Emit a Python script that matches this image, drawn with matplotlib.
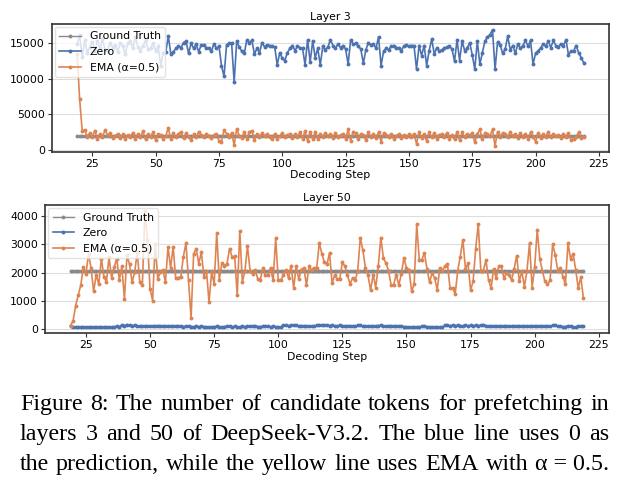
"""Candidate tokens for prefetching, layers 3 and 50 (DeepSeek-V3.2)."""

import matplotlib
matplotlib.use("Agg")
import matplotlib.pyplot as plt
import numpy as np

STEPS = list(range(19, 220))
GT_L3 = 2048
GT_L50 = 2048

ZERO_L3 = [
    14800, 16000, 13000, 15300, 13600, 14400, 15100, 13800, 15200, 14200,
    15500, 14000, 13900, 15000, 14300, 14700, 13700, 14900, 14500, 13400,
    14900, 15200, 14200, 15800, 14400, 13900, 14600, 15300, 14100, 14200,
    14900, 13900, 14500, 11800, 13600, 13700, 15900, 13400, 13700, 14200,
    14500, 14300, 15000, 15200, 13500, 14900, 14200, 14800, 13700, 14700,
    14700, 14300, 14300, 13800, 14800, 14200, 14500, 11800, 10300, 14700,
    14900, 14900, 9500, 15200, 14400, 13800, 13500, 15400, 15000, 15300,
    13400, 14200, 13600, 15000, 14400, 14700, 14600, 14500, 14400, 11900,
    13600, 12800, 12500, 13600, 14200, 14600, 13900, 14500, 14300, 14200,
    11900, 15400, 12300, 15200, 12900, 14200, 11900, 14500, 14000, 14400,
    15400, 14600, 14200, 14800, 14300, 14600, 14100, 12000, 15400, 14800,
    14900, 14500, 14100, 12100, 14000, 15000, 14700, 14800, 14200, 15800,
    11800, 13800, 14200, 14000, 14500, 14600, 14300, 14300, 13900, 14500,
    14700, 14500, 14600, 14600, 11300, 14600, 13200, 14600, 11800, 13900,
    15500, 13400, 14300, 13800, 14000, 14200, 14400, 14500, 14100, 12400,
    15400, 12500, 15200, 13900, 14200, 15000, 13300, 11300, 15200, 12000,
    13600, 15200, 15800, 16100, 16800, 11300, 15100, 14700, 13500, 14100,
    15900, 14000, 14600, 13500, 14800, 14200, 14600, 15300, 14500, 15300,
    12000, 13500, 13800, 14300, 14800, 14500, 15200, 14300, 15300, 14600,
    14400, 14800, 14600, 15400, 13300, 13800, 13800, 14600, 13600, 12900,
    12200,
]

EMA_L3 = [
    13400, 7100, 2750, 2800, 1900, 2400, 1850, 2750, 1500, 2300,
    1800, 2850, 2100, 2400, 1700, 2000, 2300, 1750, 2200, 1600,
    2100, 1900, 2450, 1600, 2300, 1800, 2650, 1500, 2200, 1900,
    2500, 1450, 2300, 2100, 1600, 2000, 3100, 1500, 2400, 1800,
    2300, 2500, 1650, 2400, 1900, 1400, 2200, 1800, 2600, 2100,
    1800, 2300, 2050, 1700, 2100, 2300, 1300, 1200, 2800, 2300,
    1900, 2400, 700, 3000, 2000, 1700, 2500, 1600, 2600, 2700,
    1400, 2300, 1800, 2400, 2000, 2300, 1900, 1600, 2300, 1500,
    2000, 2400, 1800, 2100, 2300, 1700, 2200, 1900, 2500, 1600,
    2700, 1300, 2600, 1600, 2500, 1500, 2200, 1900, 2400, 2000,
    2200, 1700, 2400, 1800, 2100, 2300, 1600, 2900, 1300, 2600,
    2400, 1500, 2300, 2100, 1400, 2600, 1800, 2200, 1700, 2500,
    1200, 2400, 2100, 1900, 2200, 1600, 2000, 2300, 1700, 2100,
    1800, 2200, 1900, 2300, 900, 2600, 1700, 2200, 1300, 2500,
    1800, 2400, 1600, 2100, 2300, 1900, 2400, 1600, 2100, 1500,
    2600, 1400, 2500, 1800, 2300, 2100, 2400, 1100, 2300, 2900,
    1500, 2400, 2300, 2000, 2900, 600, 2600, 1900, 2400, 2300,
    1800, 2600, 2000, 2200, 1700, 2400, 1900, 2300, 1600, 2500,
    1900, 1200, 2400, 1700, 2200, 1900, 2600, 1800, 2300, 2000,
    2100, 1700, 2300, 1900, 2400, 1400, 1600, 1900, 2500, 1700,
    1900,
]

ZERO_L50 = [
    120, 70, 60, 60, 60, 65, 60, 70, 75, 60,
    60, 65, 70, 60, 55, 65, 60, 80, 90, 70,
    140, 120, 160, 140, 120, 130, 110, 100, 110, 100,
    95, 100, 90, 110, 120, 115, 95, 100, 105, 90,
    90, 100, 95, 90, 85, 100, 95, 80, 85, 90,
    80, 95, 85, 70, 60, 75, 80, 90, 85, 70,
    85, 100, 90, 75, 90, 80, 70, 95, 80, 95,
    100, 110, 95, 85, 80, 100, 110, 90, 75, 100,
    80, 60, 70, 130, 130, 120, 130, 125, 130, 110,
    120, 115, 110, 105, 115, 110, 130, 140, 130, 150,
    140, 120, 130, 115, 110, 125, 120, 110, 115, 120,
    110, 105, 130, 125, 110, 115, 105, 90, 100, 110,
    120, 125, 115, 110, 120, 100, 95, 100, 90, 100,
    85, 80, 70, 75, 70, 80, 65, 90, 100, 85,
    80, 75, 70, 65, 70, 60, 130, 125, 120, 125,
    120, 125, 120, 115, 130, 120, 125, 115, 130, 120,
    125, 160, 120, 115, 110, 105, 110, 100, 105, 110,
    100, 95, 105, 100, 90, 100, 95, 90, 100, 95,
    100, 90, 95, 100, 95, 110, 100, 90, 130, 150,
    110, 90, 85, 80, 120, 90, 80, 70, 110, 95,
    90,
]

EMA_L50 = [
    120, 300, 830, 1210, 1560, 2200, 1950, 2670, 2150, 1330,
    1930, 1580, 2490, 1860, 1660, 2550, 1810, 2190, 2490, 1740,
    2220, 1070, 2610, 2290, 1660, 2010, 2730, 1660, 1550, 4190,
    3140, 1420, 1010, 3020, 1780, 2010, 2100, 1660, 2910, 2170,
    2910, 1810, 1810, 1860, 2570, 3050, 1740, 390, 2670, 2850,
    2310, 2730, 1860, 2070, 950, 2010, 1600, 3400, 1740, 2330,
    2250, 2310, 2850, 2550, 2580, 1190, 3470, 1660, 2070, 2940,
    2070, 1950, 2100, 1780, 1740, 2170, 1900, 1930, 2170, 1720,
    3230, 1720, 1740, 1900, 2100, 1810, 2250, 1450, 2220, 1780,
    2100, 2170, 1550, 2220, 2100, 2170, 2170, 3050, 2670, 2370,
    2290, 2700, 1630, 1900, 1780, 1780, 2370, 2220, 1900, 1600,
    1810, 1720, 2070, 3240, 2790, 2170, 1900, 1380, 1930, 1470,
    2220, 3240, 2520, 2330, 2070, 1560, 1560, 1930, 1550, 1950,
    2520, 2170, 2100, 1340, 1580, 3720, 2450, 2460, 2700, 2130,
    1660, 1980, 1810, 1380, 2170, 2070, 2220, 2290, 1450, 1450,
    1240, 2070, 2570, 3170, 2130, 2330, 1380, 1690, 2850, 3720,
    2070, 2070, 2450, 1740, 1450, 2130, 1810, 2220, 2220, 1810,
    1980, 1900, 1740, 2130, 2600, 1690, 2050, 1500, 2070, 3050,
    1470, 2190, 3520, 2490, 2070, 1690, 1580, 1720, 3000, 2640,
    2070, 2170, 1860, 1580, 3050, 2490, 2670, 2100, 1450, 1840,
    1100,
]

X_TICKS = [25, 50, 75, 100, 125, 150, 175, 200, 225]

CAPTION = [
    "Figure 8: The number of candidate tokens for prefetching in",
    "layers 3 and 50 of DeepSeek-V3.2. The blue line uses 0 as",
    "the prediction, while the yellow line uses EMA with α\u00a0=\u00a00.5.",
]

GRAY = "#8a8a8a"
BLUE = "#4C72B0"
ORANGE = "#DD8452"
FONT = 7.8


def draw_panel(ax, title, gt, zero, ema):
    steps = np.array(STEPS)
    ax.plot(steps, np.full(len(steps), gt), color=GRAY, lw=1.0, marker="o", ms=1.8, label="Ground Truth")
    ax.plot(steps, zero, color=BLUE, lw=1.2, marker="o", ms=1.8, label="Zero")
    ax.plot(steps, ema, color=ORANGE, lw=1.2, marker="o", ms=1.8, label="EMA (α=0.5)")
    ax.set_title(title, fontsize=FONT, pad=3)
    ax.set_xlabel("Decoding Step", fontsize=FONT, labelpad=1)
    ax.set_xticks(X_TICKS)
    ax.tick_params(labelsize=FONT, length=3, width=0.8, pad=2, color="#333333")
    ax.grid(True, axis="y", color="#dddddd", lw=0.8)
    ax.set_axisbelow(True)
    for sp in ax.spines.values():
        sp.set_color("#333333")
        sp.set_linewidth(1.2)
    ax.legend(loc="upper left", fontsize=FONT, framealpha=0.8, edgecolor="#dddddd",
              fancybox=True, borderaxespad=0.3)


def justified_line(fig, text, y, x0, x1, **kw):
    renderer = fig.canvas.get_renderer()
    words = text.split(" ")
    items = [fig.text(0, y, w, **kw) for w in words]
    widths = [t.get_window_extent(renderer).width for t in items]
    fig_w = fig.bbox.width
    gap = ((x1 - x0) * fig_w - sum(widths)) / (len(words) - 1)
    x = x0 * fig_w
    for t, w in zip(items, widths):
        t.set_x(x / fig_w)
        x += w + gap


def main():
    fig = plt.figure(figsize=(6.24, 4.88), dpi=100)
    ax1 = fig.add_axes([0.083, 0.689, 0.893, 0.262])
    ax2 = fig.add_axes([0.072, 0.317, 0.904, 0.263])
    draw_panel(ax1, "Layer 3", GT_L3, ZERO_L3, EMA_L3)
    draw_panel(ax2, "Layer 50", GT_L50, ZERO_L50, EMA_L50)

    for i, line in enumerate(CAPTION):
        y = 1 - (410 + 30 * i) / 488
        justified_line(fig, line, y, 20 / 624, 609 / 624, fontsize=17.3,
                       family="Liberation Serif", va="baseline")

    fig.savefig("out.png", dpi=100)


if __name__ == "__main__":
    main()
